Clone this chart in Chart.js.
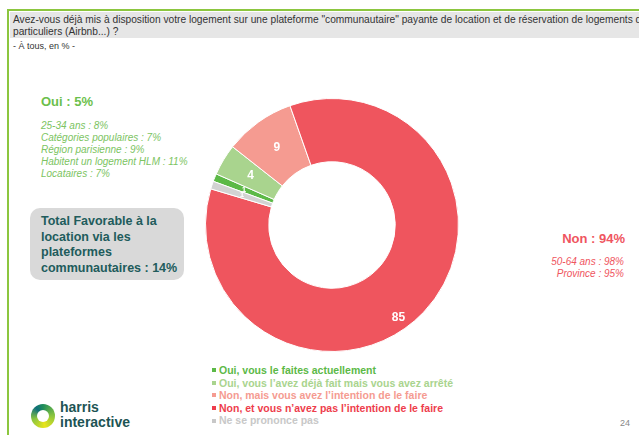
<!DOCTYPE html>
<html lang="fr">
<head>
<meta charset="utf-8">
<script src="https://cdn.jsdelivr.net/npm/chart.js@4/dist/chart.umd.min.js"></script>
<style>
  html, body { margin: 0; padding: 0; }
  body { width: 639px; height: 435px; position: relative; overflow: hidden; background: #fff; font-family: "Liberation Sans", Arial, sans-serif; }
  .frame-top { position: absolute; left: 7px; top: 9px; width: 640px; height: 2px; background: #8cc63f; }
  .frame-left { position: absolute; left: 7px; top: 9px; width: 2px; height: 430px; background: #8cc63f; }
  .question { position: absolute; left: 10px; top: 12px; width: 640px; height: 26px; background: #e6e6e6; color: #333; font-size: 10.2px; line-height: 11.5px; padding: 2px 0 0 3px; box-sizing: border-box; white-space: nowrap; }
  .sub { position: absolute; left: 13px; top: 41px; font-size: 9px; color: #333; }
  .oui-title { position: absolute; left: 41px; top: 94px; font-size: 13px; font-weight: bold; color: #6cbf4c; }
  .oui-list { position: absolute; left: 41px; top: 120px; font-size: 10px; font-style: italic; color: #7cc462; line-height: 11.9px; }
  .box { position: absolute; left: 30px; top: 208px; width: 154px; height: 72px; background: #d9d9d9; border-radius: 10px; box-sizing: border-box; padding: 6px 0 0 11px; font-size: 12.5px; font-weight: bold; color: #215c5c; line-height: 15.5px; }
  .non-title { position: absolute; right: 14px; top: 231px; font-size: 13px; font-weight: bold; color: #ef5560; text-align: right; }
  .non-list { position: absolute; right: 15px; top: 256px; font-size: 10px; font-style: italic; color: #ef5560; line-height: 11.9px; text-align: right; }
  #wrap { position: absolute; left: 205px; top: 98px; width: 254px; height: 254px; }
  #legend { position: absolute; left: 212px; top: 364px; font-size: 10.5px; font-weight: bold; line-height: 12.6px; }
  #legend div { white-space: nowrap; }
  #legend span.sq { display: inline-block; width: 4px; height: 4px; margin-right: 3px; vertical-align: middle; position: relative; top: -1px; }
  .logo-ring { position: absolute; left: 31px; top: 404px; width: 24px; height: 24px; border-radius: 50%; background: conic-gradient(#1f8c5a 0deg, #8cc63f 90deg, #e8e41a 170deg, #8cc63f 250deg, #0f6f7a 320deg, #1f8c5a 360deg); }
  .logo-hole { position: absolute; left: 37px; top: 410px; width: 12px; height: 12px; border-radius: 50%; background: #fff; }
  .logo-text { position: absolute; left: 60px; top: 400px; font-size: 14px; font-weight: bold; color: #1d5454; line-height: 15px; }
  .page { position: absolute; left: 620px; top: 418px; font-size: 9px; color: #888; }
</style>
</head>
<body>
<div class="frame-top"></div>
<div class="frame-left"></div>
<div class="question">Avez-vous déjà mis à disposition votre logement sur une plateforme "communautaire" payante de location et de réservation de logements de<br>particuliers (Airbnb...) ?</div>
<div class="sub">- À tous, en % -</div>

<div class="oui-title">Oui : 5%</div>
<div class="oui-list">25-34 ans : 8%<br>Catégories populaires : 7%<br>Région parisienne : 9%<br>Habitent un logement HLM : 11%<br>Locataires : 7%</div>

<div class="box">Total Favorable à la<br>location via les<br>plateformes<br>communautaires : 14%</div>

<div class="non-title">Non : 94%</div>
<div class="non-list">50-64 ans : 98%<br>Province : 95%</div>

<div id="wrap"><canvas id="myChart"></canvas></div>
<div id="legend"></div>

<div class="logo-ring"></div>
<div class="logo-hole"></div>
<div class="logo-text">harris<br>interactive</div>
<div class="page">24</div>

<script>
const labels = [
  "Oui, vous le faites actuellement",
  "Oui, vous l’avez déjà fait mais vous avez arrêté",
  "Non, mais vous avez l’intention de le faire",
  "Non, et vous n’avez pas l’intention de le faire",
  "Ne se prononce pas"
]
const values = [1, 4, 9, 85, 1]
const sliceColors = ['#5cb947', '#a9d48e', '#f59b91', '#ef555e', '#d2d2d2']
const legendColors = ['#5cb947', '#a9d48e', '#f59b91', '#ee3d4c', '#c8c8c8']
// where the value label sits: fraction along the arc, fraction out from the hole
const labelAlong = [0.5, 0.5, 0.5, 0.535, 0.5]
const labelOut = [0.5, 0.5, 0.5, 0.8, 0.5]

// legend in html
const legendEl = document.getElementById('legend')
labels.forEach((l, i) => {
  const row = document.createElement('div')
  row.style.color = legendColors[i]
  row.innerHTML = '<span class="sq" style="background:' + legendColors[i] + '"></span>' + l
  legendEl.appendChild(row)
})

// white value labels in the slices
const sliceLabels = {
  id: 'sliceLabels',
  afterDatasetsDraw(chart) {
    const ctx = chart.ctx
    const meta = chart.getDatasetMeta(0)
    ctx.save()
    ctx.fillStyle = '#fff'
    ctx.textAlign = 'center'
    ctx.textBaseline = 'middle'
    meta.data.forEach((arc, i) => {
      const v = chart.data.datasets[0].data[i]
      const a = arc.getProps(['x', 'y', 'startAngle', 'endAngle', 'innerRadius', 'outerRadius'], true)
      const ang = a.startAngle + (a.endAngle - a.startAngle) * labelAlong[i]
      const r = a.innerRadius + (a.outerRadius - a.innerRadius) * labelOut[i]
      ctx.font = v < 2 ? 'bold 8px "Liberation Sans", Arial' : 'bold 12px "Liberation Sans", Arial'
      ctx.fillText(v, a.x + Math.cos(ang) * r, a.y + Math.sin(ang) * r)
    })
    ctx.restore()
  }
}

new Chart(document.getElementById('myChart').getContext('2d'), {
  type: 'doughnut',
  data: {
    labels: labels,
    datasets: [{
      data: values,
      backgroundColor: sliceColors,
      borderColor: '#fff',
      borderWidth: 1
    }]
  },
  options: {
    maintainAspectRatio: false,
    responsive: true,
    animation: false,
    cutout: '50%',
    rotation: -69.8,
    layout: { padding: 0 },
    plugins: {
      legend: { display: false },
      tooltip: { enabled: false }
    }
  },
  plugins: [sliceLabels]
})
</script>
</body>
</html>
